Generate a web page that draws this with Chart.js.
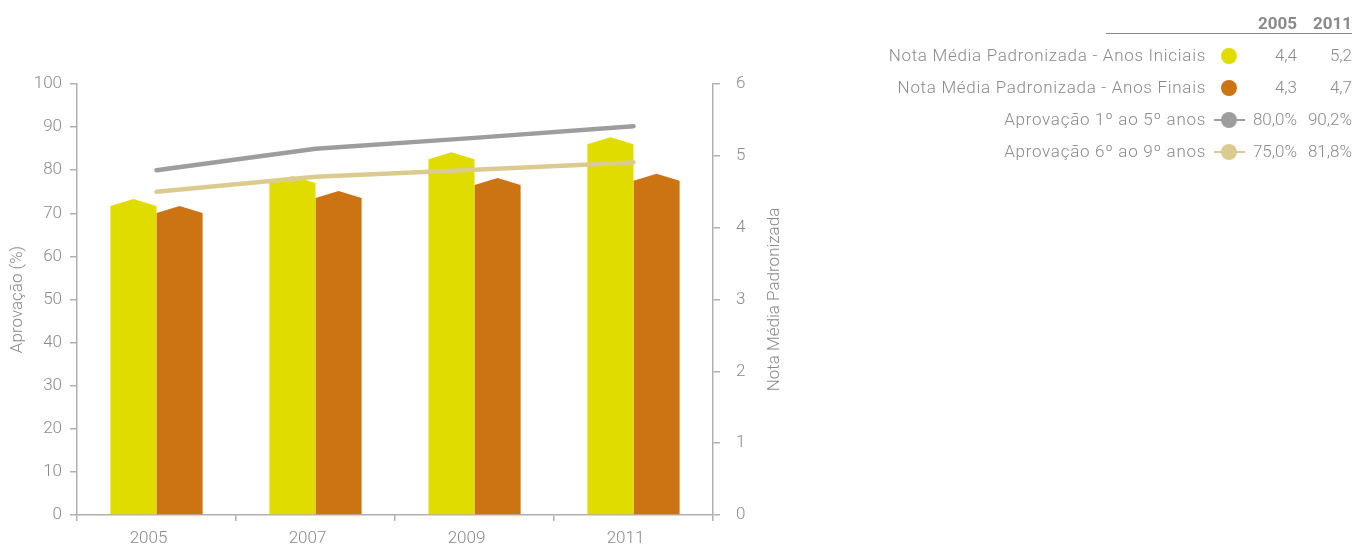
<!DOCTYPE html>
<html>
<head>
<meta charset="utf-8">
<script src="https://cdn.jsdelivr.net/npm/chart.js@4/dist/chart.umd.min.js"></script>
<style>
  html,body{margin:0;padding:0;background:#fff;}
  body{width:1353px;height:547px;position:relative;overflow:hidden;font-family:Roboto,"DejaVu Sans",sans-serif;color:#8a8a8a;}
  #wrap{position:absolute;left:0;top:0;width:790px;height:547px;}
  #legend{position:absolute;left:0;top:0;width:1353px;height:547px;pointer-events:none;}
  .hdr{position:absolute;font-weight:bold;font-size:17px;color:#8a8a8a;text-align:right;}
  .lbl{position:absolute;font-size:17px;font-weight:300;text-align:right;white-space:nowrap;letter-spacing:0.7px;}
  .val{position:absolute;font-size:17px;font-weight:300;text-align:right;white-space:nowrap;}
  .dot{position:absolute;width:16px;height:16px;border-radius:50%;}
  .seg{position:absolute;height:2px;}
  .rule{position:absolute;height:1px;background:#8a8a8a;}
</style>
</head>
<body>
<div id="wrap"><canvas id="c" width="790" height="547"></canvas></div>
<div id="legend"></div>
<script>
// ---- data ----
const categories = ['2005', '2007', '2009', '2011'];
const notaIniciais = [4.4, 4.72, 5.05, 5.26];
const notaFinais = [4.3, 4.51, 4.69, 4.75];
const aprov1a5 = [80.0, 85.0, 87.5, 90.2];
const aprov6a9 = [75.0, 78.5, 80.1, 81.8];

const seriesNames = [
  'Nota Média Padronizada - Anos Iniciais',
  'Nota Média Padronizada - Anos Finais',
  'Aprovação 1º ao 5º anos',
  'Aprovação 6º ao 9º anos'
];
const legendYears = ['2005', '2011'];
const legendFirst = ['4,4', '4,3', '80,0%', '75,0%'];
const legendLast = ['5,2', '4,7', '90,2%', '81,8%'];
const leftAxisTitle = 'Aprovação (%)';
const rightAxisTitle = 'Nota Média Padronizada';

const colors = ['#e0dc00', '#cc7314', '#9d9d9d', '#dccb90'];
const txt = '#8a8a8a';
const axisCol = '#b0b0b0';
const font = { family: 'Roboto, "DejaVu Sans", sans-serif', size: 17, weight: '300' };

// pentagon ("house") bars drawn from the bar elements computed by Chart.js
const houseBars = {
  id: 'houseBars',
  beforeDatasetDraw(chart, args) {
    const meta = args.meta;
    if (meta.type !== 'bar') return;
    const ctx = chart.ctx;
    const ds = chart.data.datasets[args.index];
    ctx.save();
    ctx.fillStyle = ds.backgroundColor;
    meta.data.forEach(el => {
      const p = el.getProps(['x', 'y', 'base', 'width'], true);
      const h = 7;
      const l = p.x - p.width / 2, r = p.x + p.width / 2;
      ctx.beginPath();
      ctx.moveTo(l, p.base);
      ctx.lineTo(l, p.y + h);
      ctx.lineTo(p.x, p.y);
      ctx.lineTo(r, p.y + h);
      ctx.lineTo(r, p.base);
      ctx.closePath();
      ctx.fill();
    });
    ctx.restore();
    return false;
  }
};

// right-axis title reading bottom-to-top
const rightTitle = {
  id: 'rightTitle',
  afterDraw(chart) {
    const s = chart.scales.yR;
    const ctx = chart.ctx;
    ctx.save();
    ctx.translate(s.right - 15, (s.top + s.bottom) / 2);
    ctx.rotate(-Math.PI / 2);
    ctx.fillStyle = txt;
    ctx.font = `${font.weight} ${font.size}px ${font.family}`;
    ctx.textAlign = 'center';
    ctx.textBaseline = 'middle';
    ctx.fillText(rightAxisTitle, 0, 0);
    ctx.restore();
  }
};

new Chart(document.getElementById('c'), {
  type: 'bar',
  data: {
    labels: categories,
    datasets: [
      { type: 'line', label: seriesNames[2], data: aprov1a5, yAxisID: 'yL', borderColor: colors[2], borderWidth: 4.5, pointRadius: 0, borderCapStyle: 'round', order: 0 },
      { type: 'line', label: seriesNames[3], data: aprov6a9, yAxisID: 'yL', borderColor: colors[3], borderWidth: 4.5, pointRadius: 0, borderCapStyle: 'round', order: 0 },
      { label: seriesNames[0], data: notaIniciais, yAxisID: 'yR', backgroundColor: colors[0], barPercentage: 1, categoryPercentage: 0.58, order: 1 },
      { label: seriesNames[1], data: notaFinais, yAxisID: 'yR', backgroundColor: colors[1], barPercentage: 1, categoryPercentage: 0.58, order: 1 }
    ]
  },
  options: {
    responsive: false,
    animation: false,
    layout: { padding: { top: 84, left: 0, right: 0, bottom: 0 } },
    plugins: { legend: { display: false }, tooltip: { enabled: false } },
    scales: {
      x: {
        grid: { offset: true, drawOnChartArea: false, drawTicks: true, tickLength: 6, color: axisCol, lineWidth: 1.5 },
        border: { color: axisCol, width: 1.5 },
        ticks: { color: txt, font: font, labelOffset: -8, padding: 8 },
        afterFit(s) { s.height = 32; }
      },
      yL: {
        position: 'left', min: 0, max: 100,
        ticks: { stepSize: 10, color: txt, font: font, padding: 8 },
        grid: { drawOnChartArea: false, tickLength: 7, color: axisCol, lineWidth: 1.5 },
        border: { color: axisCol, width: 1.5 },
        title: { display: true, text: leftAxisTitle, color: txt, font: font, padding: { top: 8, bottom: 0 } },
        afterFit(s) { s.width = 77; }
      },
      yR: {
        position: 'right', min: 0, max: 6,
        ticks: { stepSize: 1, color: txt, font: font, padding: 16 },
        grid: { drawOnChartArea: false, tickLength: 7, color: axisCol, lineWidth: 1.5 },
        border: { color: axisCol, width: 1.5 },
        title: { display: false },
        afterFit(s) { s.width = 77; }
      }
    }
  },
  plugins: [houseBars, rightTitle]
});

// ---- HTML legend table ----
const lg = document.getElementById('legend');
function add(cls, css, text) {
  const d = document.createElement('div');
  d.className = cls;
  Object.assign(d.style, css);
  if (text !== undefined) d.textContent = text;
  lg.appendChild(d);
  return d;
}
const col1Right = 1297, col2Right = 1352;
add('hdr', { right: (1353 - col1Right) + 'px', top: '13px' }, legendYears[0]);
add('hdr', { right: (1353 - col2Right) + 'px', top: '13px' }, legendYears[1]);
add('rule', { left: '1106px', top: '33px', width: '246px' });
const rowY = [56, 88, 120, 152];
seriesNames.forEach((name, i) => {
  const cy = rowY[i];
  add('lbl', { right: (1353 - 1206) + 'px', top: (cy - 11) + 'px' }, name);
  if (i >= 2) add('seg', { left: '1214px', top: (cy - 1) + 'px', width: '31px', background: colors[i] });
  add('dot', { left: '1221px', top: (cy - 8) + 'px', background: colors[i] });
  add('val', { right: (1353 - col1Right) + 'px', top: (cy - 11) + 'px' }, legendFirst[i]);
  add('val', { right: (1353 - col2Right) + 'px', top: (cy - 11) + 'px' }, legendLast[i]);
});
</script>
</body>
</html>
